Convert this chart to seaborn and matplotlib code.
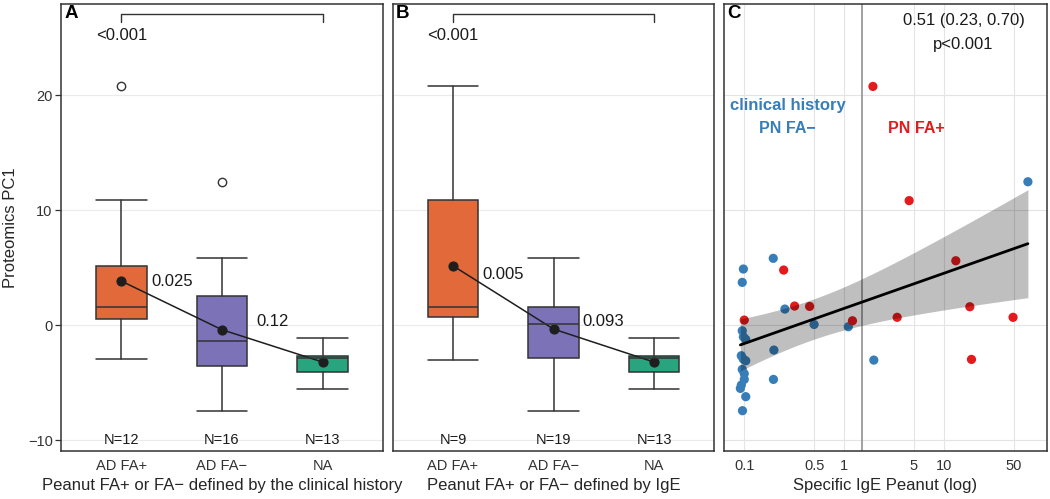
import numpy as np
import pandas as pd
import matplotlib
matplotlib.use("Agg")
import matplotlib.pyplot as plt
from matplotlib.ticker import NullLocator, FixedLocator
import seaborn as sns

# ---------------- data ----------------
groups = ["AD FA+", "AD FA\u2212", "NA"]
box_colors = ["#E2693A", "#7B72B8", "#28A47F"]

# Panel A: FA defined by clinical history
a_n = [12, 16, 13]
a_whislo = [-2.96, -7.42, -5.51]
a_q1 = [0.57, -3.57, -4.03]
a_med = [1.62, -1.37, -2.87]
a_q3 = [5.2, 2.58, -2.7]
a_whishi = [10.87, 5.83, -1.1]
a_mean = [3.85, -0.38, -3.19]
a_outliers = [[20.8], [12.49], []]
a_pair_p = ["0.025", "0.12"]
a_overall_p = "<0.001"

# Panel B: FA defined by IgE
b_n = [9, 19, 13]
b_whislo = [-2.99, -7.42, -5.51]
b_q1 = [0.7, -2.82, -4.03]
b_med = [1.62, 0.11, -2.87]
b_q3 = [10.87, 1.62, -2.7]
b_whishi = [20.8, 5.83, -1.1]
b_mean = [5.18, -0.32, -3.19]
b_outliers = [[], [], []]
b_pair_p = ["0.005", "0.093"]
b_overall_p = "<0.001"

# Panel C: specific IgE vs PC1
fa_pos_ige = [0.1, 0.248, 0.319, 0.451, 1.21, 1.94, 3.39, 4.47, 13.1, 18.1, 18.8, 49.0]
fa_pos_pc1 = [0.46, 4.81, 1.68, 1.65, 0.4, 20.78, 0.7, 10.85, 5.62, 1.62, -2.96, 0.7]
fa_neg_ige = [0.098, 0.0955, 0.195, 0.255, 0.5, 1.1, 1.98, 69.0, 0.198, 0.196,
              0.0955, 0.098, 0.1035, 0.0934, 0.0978, 0.1035, 0.0955, 0.1, 0.1,
              0.0935, 0.0914, 0.1035, 0.096]
fa_neg_pc1 = [4.9, 3.74, 5.83, 1.42, 0.08, -0.12, -3.02, 12.49, -2.15, -4.7,
              -0.47, -0.99, -1.22, -2.64, -2.93, -3.08, -3.83, -4.2, -4.7,
              -5.19, -5.48, -6.2, -7.42]
ige_ticks = [0.1, 0.5, 1, 5, 10, 50]
ige_tick_labels = ["0.1", "0.5", "1", "5", "10", "50"]
ige_cutoff = 1.5
corr_text = "0.51 (0.23, 0.70)"
corr_p = "p<0.001"

# ---------------- style ----------------
sns.set_theme(style="whitegrid")
plt.rcParams["font.family"] = ["Liberation Sans", "DejaVu Sans"]
plt.rcParams["axes.unicode_minus"] = True

EDGE = "#333333"
GRID = "#EBEBEB"
RED = "#E41A1C"
BLUE = "#377EB8"
YLIM = (-10.9, 27.95)

fig = plt.figure(figsize=(10.5, 4.99), dpi=100)
fig.patch.set_facecolor("white")
bottom = 48.3 / 499
height = 446.7 / 499
axA = fig.add_axes([61 / 1050, bottom, 322 / 1050, height])
axB = fig.add_axes([392.7 / 1050, bottom, 321.6 / 1050, height])
axC = fig.add_axes([724 / 1050, bottom, 322.7 / 1050, height])


def style_axes(ax):
    ax.set_facecolor("white")
    for sp in ax.spines.values():
        sp.set_visible(True)
        sp.set_color(EDGE)
        sp.set_linewidth(1.1)
    ax.grid(True, color=GRID, linewidth=0.8)
    ax.set_axisbelow(True)
    ax.set_ylim(*YLIM)
    ax.set_yticks([-10, 0, 10, 20])


def box_panel(ax, n, whislo, q1, med, q3, whishi, means, outliers, pair_p, overall_p,
              xlabel, letter, show_y, ptext_pos):
    style_axes(ax)
    stats = []
    for i, g in enumerate(groups):
        stats.append(dict(whislo=whislo[i], q1=q1[i], med=med[i], q3=q3[i],
                          whishi=whishi[i], fliers=np.array(outliers[i]), label=g))
    bp = ax.bxp(stats, positions=range(len(groups)), widths=0.5, capwidths=0.5,
                patch_artist=True, showfliers=True,
                boxprops=dict(edgecolor=EDGE, linewidth=1.1),
                medianprops=dict(color=EDGE, linewidth=1.1),
                whiskerprops=dict(color=EDGE, linewidth=1.1),
                capprops=dict(color=EDGE, linewidth=1.1),
                flierprops=dict(marker="o", markerfacecolor="none",
                                markeredgecolor=EDGE, markersize=6, markeredgewidth=1.0))
    for patch, c in zip(bp["boxes"], box_colors):
        patch.set_facecolor(c)

    df = pd.DataFrame({"group": groups, "mean": means})
    sns.pointplot(data=df, x="group", y="mean", order=groups, color="#1E1E1E",
                  markersize=6.5, linewidth=1.1, errorbar=None, ax=ax)

    ax.set_xlim(-0.6, 2.6)
    ax.set_ylim(*YLIM)
    ax.set_xticks(range(len(groups)))
    ax.set_xticklabels(groups)
    ax.xaxis.grid(False)
    ax.tick_params(axis="x", length=0, pad=6, labelsize=10.5, labelcolor="#333333")
    if show_y:
        ax.tick_params(axis="y", length=4, width=0.9, color=EDGE, pad=2,
                       labelsize=10.5, labelcolor="#333333", left=True)
        ax.set_ylabel("Proteomics PC1", fontsize=12, va="center")
        ax.yaxis.set_label_coords(-0.158, 0.5)
    else:
        ax.tick_params(axis="y", length=0, labelleft=False)
        ax.set_ylabel("")
    ax.set_xlabel(xlabel, fontsize=12, va="center")
    ax.xaxis.set_label_coords(0.5, -0.0768)

    for i in range(len(groups)):
        ax.text(i, -10.0, f"N={n[i]}", ha="center", va="center", fontsize=10.5, color="#1A1A1A")
    for (px, py), t in zip(ptext_pos, pair_p):
        ax.text(px, py, t, ha="left", va="center", fontsize=12, color="#1A1A1A")
    ax.plot([0, 0, 2, 2], [26.4, 27.1, 27.1, 26.4], color=EDGE, lw=1.0)
    ax.text(0, 25.2, overall_p, ha="center", va="center", fontsize=12, color="#1A1A1A")
    ax.text(0.011, 0.997, letter, transform=ax.transAxes, ha="left", va="top",
            fontsize=13.5, fontweight="bold", color="black")


box_panel(axA, a_n, a_whislo, a_q1, a_med, a_q3, a_whishi, a_mean, a_outliers,
          a_pair_p, a_overall_p,
          "Peanut FA+ or FA\u2212 defined by the clinical history", "A", True,
          [(0.295, 3.8), (1.338, 0.3)])
box_panel(axB, b_n, b_whislo, b_q1, b_med, b_q3, b_whishi, b_mean, b_outliers,
          b_pair_p, b_overall_p,
          "Peanut FA+ or FA\u2212 defined by IgE", "B", False,
          [(0.291, 4.46), (1.29, 0.3)])

# ---------------- panel C ----------------
style_axes(axC)
axC.set_xscale("log")
axC.axvline(ige_cutoff, color="#9A9A9A", lw=1.3, zorder=1)
sns.scatterplot(x=fa_neg_ige, y=fa_neg_pc1, color=BLUE, s=44, edgecolor="none",
                ax=axC, zorder=3, legend=False)
sns.scatterplot(x=fa_pos_ige, y=fa_pos_pc1, color=RED, s=44, edgecolor="none",
                ax=axC, zorder=3, legend=False)

# linear model of PC1 on log10(IgE) with analytic 95% confidence band
all_ige = np.array(fa_pos_ige + fa_neg_ige)
all_pc1 = np.array(fa_pos_pc1 + fa_neg_pc1)
u = np.log10(all_ige)
n_obs = len(u)
slope, intercept = np.polyfit(u, all_pc1, 1)
resid = all_pc1 - (intercept + slope * u)
s_err = np.sqrt(np.sum(resid ** 2) / (n_obs - 2))
sxx = np.sum((u - u.mean()) ** 2)
t_crit = 2.03
grid_ige = np.geomspace(all_ige.min(), all_ige.max(), 200)
gu = np.log10(grid_ige)
fit = intercept + slope * gu
half = t_crit * s_err * np.sqrt(1.0 / n_obs + (gu - u.mean()) ** 2 / sxx)
axC.fill_between(grid_ige, fit - half, fit + half, color="black", alpha=0.25,
                 linewidth=0, zorder=4)
sns.lineplot(x=grid_ige, y=fit, color="black", lw=2.0, ax=axC, zorder=5, legend=False)

axC.set_xlim(0.0627, 106.4)
axC.set_ylim(*YLIM)
axC.xaxis.set_major_locator(FixedLocator(ige_ticks))
axC.set_xticklabels(ige_tick_labels)
axC.xaxis.set_minor_locator(NullLocator())
axC.grid(True, which="major", color="#E4E4E4", linewidth=0.8)
axC.tick_params(axis="x", length=0, pad=6, labelsize=10.5, labelcolor="#333333")
axC.tick_params(axis="y", length=0, labelleft=False)
axC.set_ylabel("")
axC.set_xlabel("Specific IgE Peanut (log)", fontsize=12, va="center")
axC.xaxis.set_label_coords(0.5, -0.0768)

axC.text(0.273, 19.16, "clinical history", color=BLUE, fontweight="bold",
         ha="center", va="center", fontsize=12)
axC.text(0.27, 17.13, "PN FA\u2212", color=BLUE, fontweight="bold",
         ha="center", va="center", fontsize=11.5)
axC.text(5.33, 17.13, "PN FA+", color=RED, fontweight="bold",
         ha="center", va="center", fontsize=11.5)
axC.text(15.7, 26.49, corr_text, ha="center", va="center", fontsize=12, color="#1A1A1A")
axC.text(15.7, 24.43, corr_p, ha="center", va="center", fontsize=12, color="#1A1A1A")
axC.text(0.009, 0.997, "C", transform=axC.transAxes, ha="left", va="top",
         fontsize=13.5, fontweight="bold", color="black")

fig.savefig("out.png", dpi=100, facecolor="white")
